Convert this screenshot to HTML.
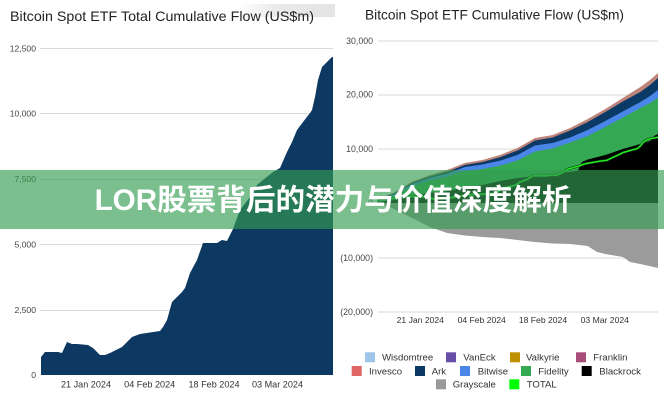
<!DOCTYPE html>
<html>
<head>
<meta charset="utf-8">
<style>
html,body{margin:0;padding:0;background:#fff;}
body{width:664px;height:400px;overflow:hidden;}
svg{display:block;}
text{font-family:"Liberation Sans",Arial,sans-serif;}
</style>
</head>
<body>
<svg width="664" height="400" viewBox="0 0 664 400" xmlns="http://www.w3.org/2000/svg">
<defs>
<linearGradient id="tg" x1="0" y1="0" x2="1" y2="0">
<stop offset="0" stop-color="#e4e4e4" stop-opacity="0"/>
<stop offset="0.4" stop-color="#e4e4e4" stop-opacity="0.8"/>
<stop offset="1" stop-color="#e4e4e4" stop-opacity="1"/>
</linearGradient>
</defs>
<rect x="0" y="0" width="664" height="400" fill="#fff"/>

<!-- LEFT CHART -->
<rect x="238" y="4" width="97" height="13" fill="url(#tg)"/>
<text x="10" y="21" font-size="14" fill="#222" textLength="304" lengthAdjust="spacingAndGlyphs">Bitcoin Spot ETF Total Cumulative Flow (US$m)</text>

<g stroke="#dadada" stroke-width="1">
<line x1="40" y1="48.5" x2="333" y2="48.5"/>
<line x1="40" y1="113.5" x2="333" y2="113.5"/>
<line x1="40" y1="179.5" x2="333" y2="179.5"/>
<line x1="40" y1="244.5" x2="333" y2="244.5"/>
<line x1="40" y1="310.5" x2="333" y2="310.5"/>
</g>
<g font-size="8.6" fill="#444" text-anchor="end">
<text x="36" y="51.4">12,500</text>
<text x="36" y="116.4">10,000</text>
<text x="36" y="182">7,500</text>
<text x="36" y="247.4">5,000</text>
<text x="36" y="313">2,500</text>
<text x="36" y="378">0</text>
</g>

<polygon fill="#0c3862" points="41,375 41,357 45,352 58,352 62,353 67,342 72,344 77,344 88,345 93,348 100,355 105,355 110,353 122,347 132,337 140,334 160,331 163,327 167,320 172,302 182,292 185,288 190,273 197,260 203,243 217,243 222,240 227,241 233,229 240,210 250,197 257,185 263,180 273,172 280,168 287,152 292,142 297,130 303,122 310,113 312,110 315,97 318,80 322,67 332,57 333,57 333,375"/>

<g font-size="9.1" fill="#333" text-anchor="middle">
<text x="86" y="387.5">21 Jan 2024</text>
<text x="149.7" y="387.5">04 Feb 2024</text>
<text x="214" y="387.5">18 Feb 2024</text>
<text x="277.5" y="387.5">03 Mar 2024</text>
</g>

<!-- RIGHT CHART -->
<text x="365" y="19.5" font-size="13.7" fill="#222" textLength="259" lengthAdjust="spacingAndGlyphs">Bitcoin Spot ETF Cumulative Flow (US$m)</text>

<g stroke="#dadada" stroke-width="1">
<line x1="378" y1="41" x2="658" y2="41"/>
<line x1="378" y1="95" x2="658" y2="95"/>
<line x1="378" y1="149" x2="658" y2="149"/>
<line x1="378" y1="203" x2="658" y2="203"/>
<line x1="378" y1="258" x2="658" y2="258"/>
<line x1="378" y1="312" x2="658" y2="312"/>
</g>
<g font-size="8.8" fill="#444" text-anchor="end">
<text x="373" y="43.8">30,000</text>
<text x="373" y="97.4">20,000</text>
<text x="373" y="152.1">10,000</text>
<text x="373" y="206">0</text>
<text x="373" y="260.8">(10,000)</text>
<text x="373" y="314.8">(20,000)</text>
</g>

<!-- stacked positive layers -->
<polygon fill="#bd8479" points="377,199.3 394.6,192.3 412.1,181.6 429.7,175 447.2,170 464.8,163 482.4,160 499.9,155 517.5,148 535,138 552.6,135 570.2,128 587.7,119 605.3,109 622.8,98 640.4,87 650,80 658,73 658,203 377,203"/>
<polygon fill="#0b3a66" points="377,199.6 394.6,193.1 412.1,182.8 429.7,176.5 447.2,171.8 464.8,165 482.4,162 499.9,157.3 517.5,150.5 535,140.5 552.6,137.5 570.2,130.5 587.7,122 605.3,112 622.8,101.5 640.4,92 650,85 658,78 658,203 377,203"/>
<polygon fill="#4a86e8" points="377,199.9 394.6,194.1 412.1,184 429.7,178 447.2,173.6 464.8,167 482.4,164.5 499.9,160.8 517.5,155 535,145.5 552.6,143 570.2,137.5 587.7,130 605.3,121 622.8,111.5 640.4,102 650,96 658,90 658,203 377,203"/>
<polygon fill="#34a853" points="377,200.4 394.6,195.6 412.1,186 429.7,180.5 447.2,176.6 464.8,171 482.4,169 499.9,165.8 517.5,160.5 535,151.5 552.6,148.5 570.2,142.5 587.7,136 605.3,127 622.8,117.5 640.4,108 650,103 658,98 658,203 377,203"/>
<polygon fill="#000" points="377,202 394.6,200 412.1,196 429.7,193 447.2,191 464.8,188 482.4,185 499.9,181 517.5,178 535,176 552.6,174 570.2,172 578,170.5 582,162 587.7,159.5 605.3,155 622.8,149 640.4,144 650,141 654,136 658,134 658,203 377,203"/>
<!-- grayscale negative -->
<polygon fill="#9b9b9b" points="377,203 390,207 412.1,218 429.7,227 447.2,233 464.8,235.5 482.4,237 499.9,238 517.5,240 535,242 552.6,243.5 570.2,244 587.7,246 597,252 605.3,254 617,256 623,257 630,262 640.4,264 658,268 658,203"/>

<!-- TOTAL line -->
<polyline fill="none" stroke="#0f3d14" stroke-width="2.6" stroke-linejoin="round" points="377,199.3 380.8,198.3 393.4,198.3 397.2,198.5 402,196.2 406.8,196.6 411.6,196.6 422.2,196.8 427,197.4 433.8,198.9 438.6,198.9 443.4,198.5 455,197.2 464.6,195.2 472.3,194.5 491.5,193.9 494.4,193.1 498.3,191.6 503.1,187.9 512.7,185.9 515.6,185 520.4,181.9 527.1,179.3 532.9,175.8 546.4,175.8 551.2,175.1 556,175.3 561.8,172.9 568.5,168.9 578.1,166.3 584.9,163.8 590.6,162.8 600.3,161.1 607,160.3 613.7,157 618.5,154.9 623.4,152.4 629.1,150.8 635.9,148.9 637.8,148.3 640.7,145.6 643.6,142.1 647.4,139.4 657,137.4 658,137.4"/>
<polyline fill="none" stroke="#22f022" stroke-width="1.4" stroke-linejoin="round" points="377,199.3 380.8,198.3 393.4,198.3 397.2,198.5 402,196.2 406.8,196.6 411.6,196.6 422.2,196.8 427,197.4 433.8,198.9 438.6,198.9 443.4,198.5 455,197.2 464.6,195.2 472.3,194.5 491.5,193.9 494.4,193.1 498.3,191.6 503.1,187.9 512.7,185.9 515.6,185 520.4,181.9 527.1,179.3 532.9,175.8 546.4,175.8 551.2,175.1 556,175.3 561.8,172.9 568.5,168.9 578.1,166.3 584.9,163.8 590.6,162.8 600.3,161.1 607,160.3 613.7,157 618.5,154.9 623.4,152.4 629.1,150.8 635.9,148.9 637.8,148.3 640.7,145.6 643.6,142.1 647.4,139.4 657,137.4 658,137.4"/>

<g font-size="8.6" fill="#333" text-anchor="middle">
<text x="420.3" y="323">21 Jan 2024</text>
<text x="481.7" y="323">04 Feb 2024</text>
<text x="543" y="323">18 Feb 2024</text>
<text x="604.8" y="323">03 Mar 2024</text>
</g>

<!-- legend -->
<g font-size="9.6" fill="#333">
<rect x="365" y="352.3" width="10" height="10" fill="#9fc5e8"/><text x="382" y="360.7">Wisdomtree</text>
<rect x="446" y="352.3" width="10" height="10" fill="#674ea7"/><text x="463.3" y="360.7">VanEck</text>
<rect x="510" y="352.3" width="10" height="10" fill="#bf9000"/><text x="526" y="360.7">Valkyrie</text>
<rect x="576" y="352.3" width="10" height="10" fill="#a64d79"/><text x="593.3" y="360.7">Franklin</text>

<rect x="351.7" y="366" width="10" height="10" fill="#e06666"/><text x="369" y="374.4">Invesco</text>
<rect x="415" y="366" width="10" height="10" fill="#0b3a66"/><text x="431.7" y="374.4">Ark</text>
<rect x="460" y="366" width="10" height="10" fill="#4a86e8"/><text x="477.7" y="374.4">Bitwise</text>
<rect x="521" y="366" width="10" height="10" fill="#34a853"/><text x="538.3" y="374.4">Fidelity</text>
<rect x="581.7" y="366" width="10" height="10" fill="#000"/><text x="599.3" y="374.4">Blackrock</text>

<rect x="436" y="379.3" width="10" height="10" fill="#999999"/><text x="452.7" y="387.7">Grayscale</text>
<rect x="509.3" y="379.3" width="10" height="10" fill="#00ff00"/><text x="526.7" y="387.7">TOTAL</text>
</g>

<!-- BANNER -->
<rect x="0" y="170" width="664" height="59" fill="rgb(52,157,81)" fill-opacity="0.65"/>
<text x="333" y="210" text-anchor="middle" font-size="29.6" font-weight="bold" fill="#fff" style="font-family:'Liberation Sans','Noto Sans CJK SC','WenQuanYi Zen Hei',sans-serif;">LOR股票背后的潜力与价值深度解析</text>
</svg>
</body>
</html>
